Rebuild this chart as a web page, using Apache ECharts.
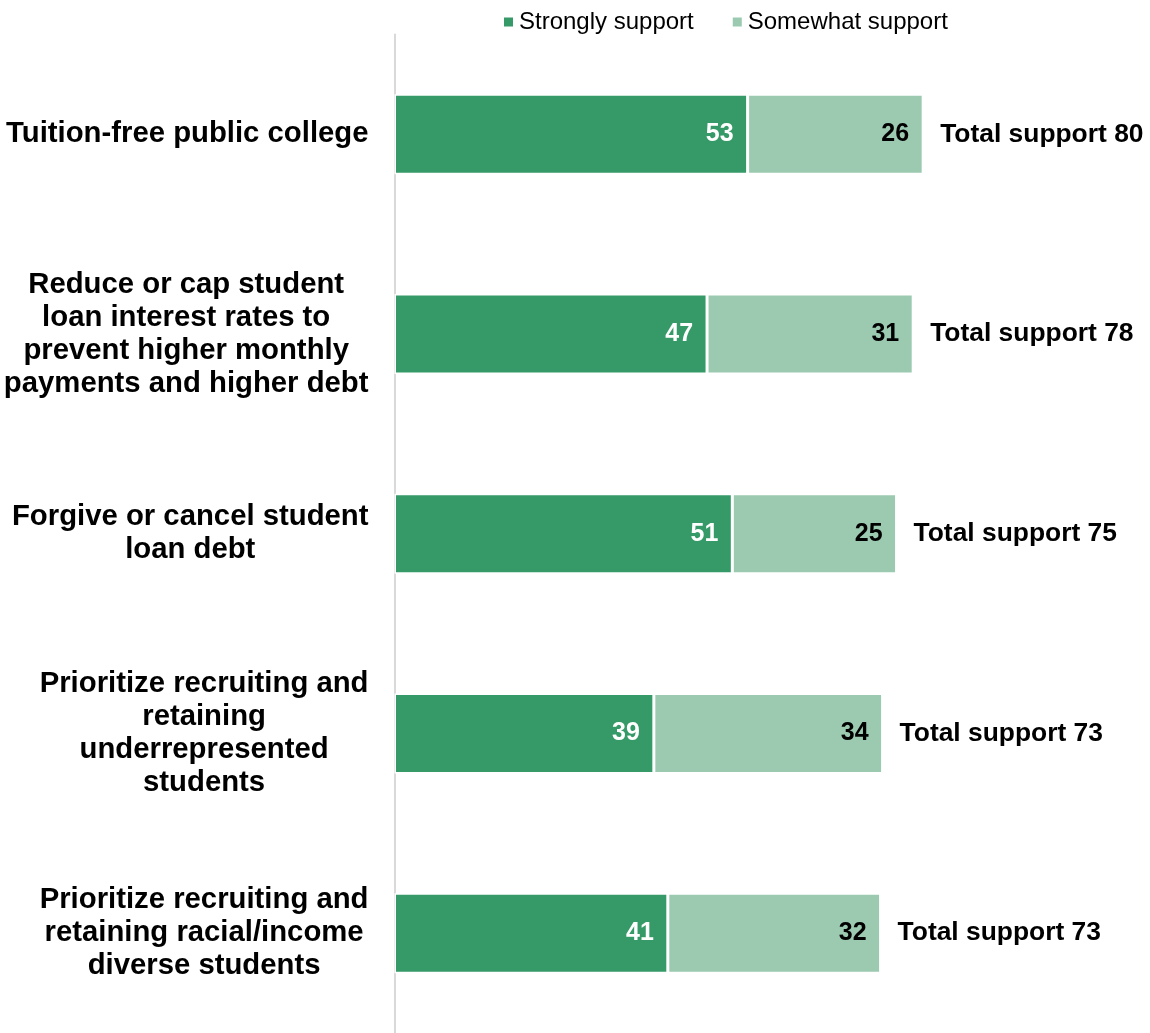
<!DOCTYPE html>
<html>
<head>
<meta charset="utf-8">
<script src="https://cdn.jsdelivr.net/npm/echarts@6/dist/echarts.min.js"></script>
<style>
html,body{margin:0;padding:0;background:#fff;}
#chart{width:1150px;height:1033px;}
</style>
</head>
<body>
<div id="chart"></div>
<script>
var categories = [
  "Tuition-free public college",
  "Reduce or cap student\nloan interest rates to\nprevent higher monthly\npayments and higher debt",
  "Forgive or cancel student\nloan debt",
  "Prioritize recruiting and\nretaining\nunderrepresented\nstudents",
  "Prioritize recruiting and\nretaining racial/income\ndiverse students"
];
var seriesNames = ["Strongly support", "Somewhat support"];
var stronglySupport = [53.1, 47.0, 50.8, 39.0, 41.1];
var somewhatSupport = [26.4, 31.0, 24.7, 34.4, 32.0];
var totalSupport = [80, 78, 75, 73, 73];
var totalPrefix = "Total support ";

var FONT = "'Liberation Sans', Arial, Helvetica, sans-serif";
var chart = echarts.init(document.getElementById('chart'), null, {renderer: 'canvas'});

var option = {
  backgroundColor: '#ffffff',
  animation: false,
  textStyle: {fontFamily: FONT},
  legend: {
    data: seriesNames,
    left: 497,
    top: 5,
    itemWidth: 11,
    itemHeight: 11,
    itemGap: 37,
    icon: 'rect',
    textStyle: {fontFamily: FONT, fontSize: 24, color: '#000'}
  },
  grid: {left: 394.5, top: 34.5, width: 665, height: 1003.5, containLabel: false},
  xAxis: {
    type: 'value', min: 0, max: 100,
    show: false
  },
  yAxis: {
    type: 'category',
    data: categories,
    inverse: true,
    axisLine: {show: true, lineStyle: {color: '#d9d9d9', width: 2}},
    axisTick: {show: false},
    splitLine: {show: false},
    axisLabel: {
      margin: 26,
      fontFamily: FONT,
      fontSize: 29.3,
      fontWeight: 'bold',
      color: '#000',
      lineHeight: 33,
      formatter: function (v) {
        return v.split('\n').map(function (l) { return '{c|' + l + '}'; }).join('\n');
      },
      rich: {
        c: {align: 'center', fontFamily: FONT, fontSize: 29.3, fontWeight: 'bold', color: '#000', lineHeight: 33}
      }
    }
  },
  series: [
    {
      name: seriesNames[0], type: 'bar', stack: 'a', barWidth: 80,
      data: stronglySupport,
      itemStyle: {color: '#359a68', borderColor: '#ffffff', borderWidth: 1.5},
      label: {
        show: true, position: 'insideRight', distance: 14,
        fontFamily: FONT, fontSize: 25, fontWeight: 'bold', color: '#ffffff',
        formatter: function (p) { return Math.round(p.value); }
      }
    },
    {
      name: seriesNames[1], type: 'bar', stack: 'a', barWidth: 80,
      data: somewhatSupport,
      itemStyle: {color: '#9bcab1', borderColor: '#ffffff', borderWidth: 1.5},
      label: {
        show: true, position: 'insideRight', distance: 14,
        fontFamily: FONT, fontSize: 25, fontWeight: 'bold', color: '#000000',
        formatter: function (p) { return Math.round(p.value); }
      }
    },
    {
      name: 'Total', type: 'bar', stack: 'a', barWidth: 80,
      data: totalSupport.map(function () { return 0; }),
      itemStyle: {color: 'rgba(0,0,0,0)', borderWidth: 0},
      label: {
        show: true, position: 'right', distance: 17,
        fontFamily: FONT, fontSize: 26.4, fontWeight: 'bold', color: '#000000',
        formatter: function (p) { return totalPrefix + totalSupport[p.dataIndex]; }
      },
      silent: true
    }
  ]
};
chart.setOption(option);
</script>
</body>
</html>
